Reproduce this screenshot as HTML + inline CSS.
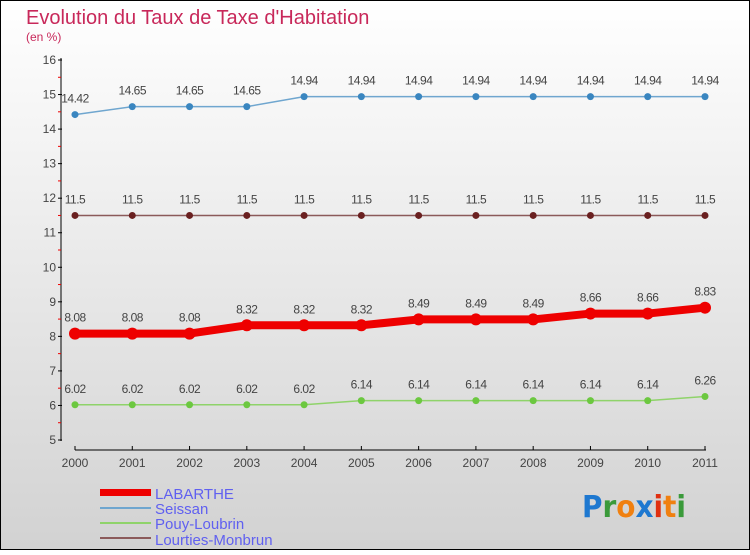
<!DOCTYPE html>
<html><head><meta charset="utf-8"><style>
body{margin:0}
#c{width:750px;height:550px;position:relative;font-family:"Liberation Sans",sans-serif}
</style></head><body>
<div id="c">
<svg id="s" width="750" height="550" xmlns="http://www.w3.org/2000/svg">
<defs><linearGradient id="bg" x1="0" y1="0" x2="0" y2="1"><stop offset="0" stop-color="#ffffff"/><stop offset="1" stop-color="#d2d2d2"/></linearGradient></defs>
<rect x="0.5" y="0.5" width="749" height="549" fill="url(#bg)" stroke="#000"/>
<text x="26" y="24" font-size="20" fill="#c8285a">Evolution du Taux de Taxe d'Habitation</text>
<text x="26" y="41" font-size="12" fill="#c8285a">(en %)</text>
<g id="axes"></g><g id="series"></g>
<g>
<rect x="100" y="489" width="51" height="7" fill="#ee0000"/>
<line x1="100" y1="508" x2="151" y2="508" stroke="#6fa6cf" stroke-width="2"/>
<line x1="100" y1="523" x2="151" y2="523" stroke="#8fd36a" stroke-width="2"/>
<line x1="100" y1="538" x2="151" y2="538" stroke="#8b5a5a" stroke-width="2"/>
<g font-size="15" fill="#6060f0">
<text x="155" y="499">LABARTHE</text>
<text x="155" y="514">Seissan</text>
<text x="155" y="529">Pouy-Loubrin</text>
<text x="155" y="545">Lourties-Monbrun</text>
</g></g>
<g font-size="30" font-weight="bold" font-family="'DejaVu Sans',sans-serif">
<text x="582" y="517" textLength="104" lengthAdjust="spacingAndGlyphs"><tspan fill="#1e78d0">P</tspan><tspan fill="#3a9a3a">r</tspan><tspan fill="#f08010">o</tspan><tspan fill="#1e78d0">x</tspan><tspan fill="#e03010">i</tspan><tspan fill="#f08010">t</tspan><tspan fill="#3a9a3a">i</tspan></text>
</g>
</svg>
</div>
<script>
const years=[2000,2001,2002,2003,2004,2005,2006,2007,2008,2009,2010,2011];
const yTicks=[5,6,7,8,9,10,11,12,13,14,15,16];
const labarthe=[8.08,8.08,8.08,8.32,8.32,8.32,8.49,8.49,8.49,8.66,8.66,8.83];
const seissan=[14.42,14.65,14.65,14.65,14.94,14.94,14.94,14.94,14.94,14.94,14.94,14.94];
const pouy=[6.02,6.02,6.02,6.02,6.02,6.14,6.14,6.14,6.14,6.14,6.14,6.26];
const lourties=[11.5,11.5,11.5,11.5,11.5,11.5,11.5,11.5,11.5,11.5,11.5,11.5];
const NS="http://www.w3.org/2000/svg";
const X=i=>75+i*(705-75)/(years.length-1);
const Y=v=>440-(v-5)*(380/11);
function mk(t,a,p){const e=document.createElementNS(NS,t);for(const k in a)e.setAttribute(k,a[k]);p.appendChild(e);return e;}
const ax=document.getElementById('axes');
mk('line',{x1:61,y1:58,x2:61,y2:441,stroke:'#000','stroke-width':1},ax);
mk('line',{x1:75,y1:450,x2:706,y2:450,stroke:'#000','stroke-width':1},ax);
yTicks.forEach(v=>{
 mk('line',{x1:58,y1:Y(v),x2:62,y2:Y(v),stroke:'#000'},ax);
 if(v<16)mk('line',{x1:58,y1:Y(v+0.5),x2:61,y2:Y(v+0.5),stroke:'#e00'},ax);
 const t=mk('text',{x:56,y:Y(v)+4,'font-size':12,fill:'#444','text-anchor':'end'},ax);t.textContent=v;
 
 
});
years.forEach((y,i)=>{
 mk('line',{x1:X(i),y1:446,x2:X(i),y2:450,stroke:'#000'},ax);
 const t=mk('text',{x:X(i),y:467,'font-size':12,fill:'#444','text-anchor':'middle'},ax);t.textContent=y;
 
 
});
const sg=document.getElementById('series');
function series(vals,color,w,r,dot,name){
 const g=mk('g',{},sg);
 
 
 mk('polyline',{points:vals.map((v,i)=>X(i)+','+Y(v)).join(' '),fill:'none',stroke:color,'stroke-width':w,'stroke-linejoin':'round'},g);
 vals.forEach((v,i)=>{
  const c=mk('circle',{cx:X(i),cy:Y(v),r:r,fill:dot},g);
  
  
  const t=mk('text',{x:X(i),y:Y(v)-12,'font-size':12,fill:'#444','text-anchor':'middle','letter-spacing':'-0.5'},g);t.textContent=v;
 });
}
series(seissan,'#6fa6cf',1.5,3.5,'#3a86c0','series-seissan');
series(lourties,'#8b5a5a',1.5,3.5,'#6a2020','series-lourties-monbrun');
series(pouy,'#8fd36a',1.5,3.5,'#6cc840','series-pouy-loubrin');
series(labarthe,'#ee0000',8,6,'#ee0000','series-labarthe');
</script>
</body></html>
